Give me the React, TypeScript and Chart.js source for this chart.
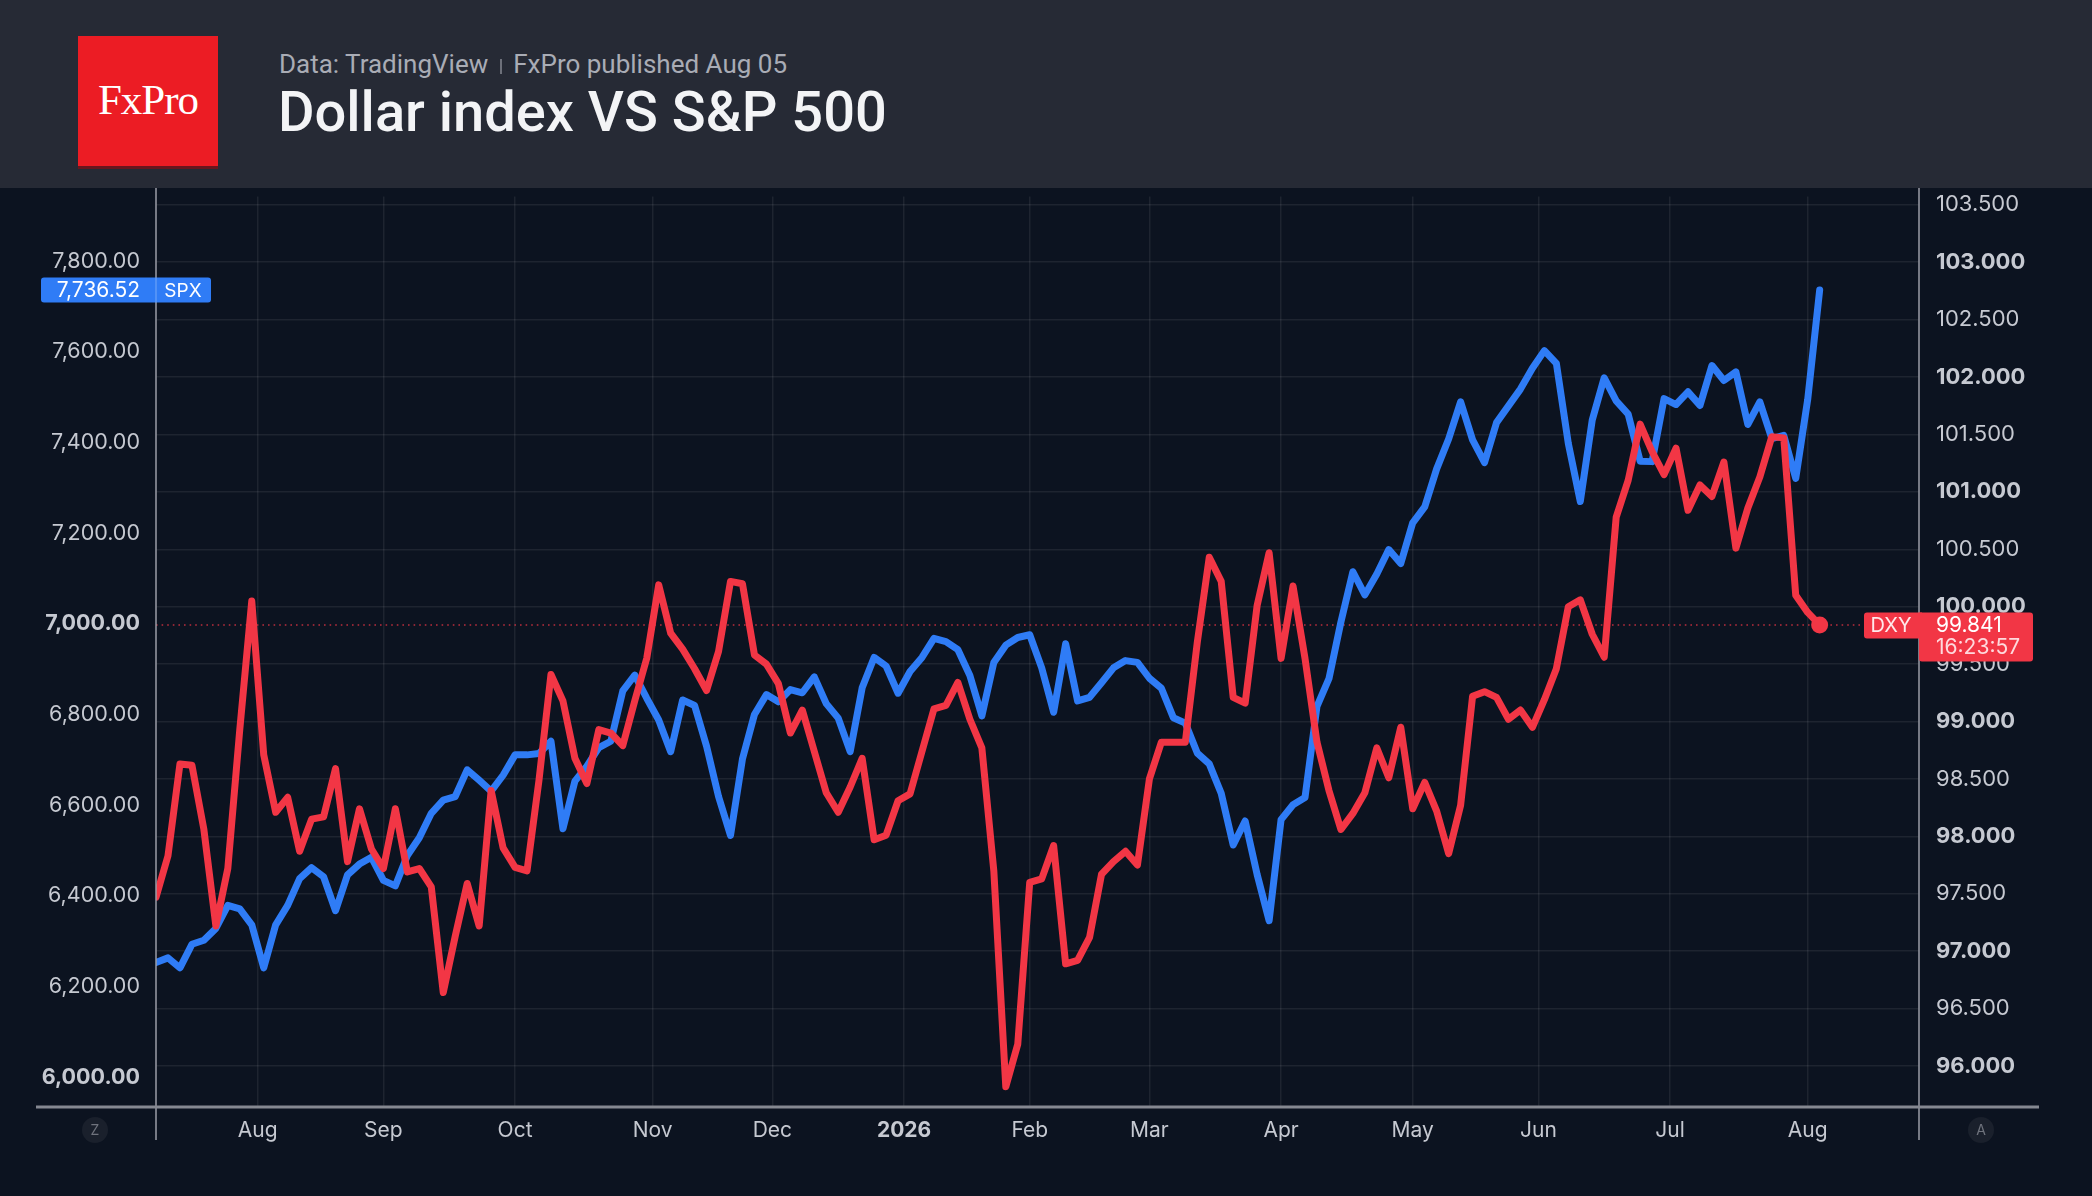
import React, { useEffect, useRef } from "react";
import { Chart, registerables } from "chart.js";

Chart.register(...registerables);

// ---- data (daily bars, one value every 2 bars) ----
const barStep = 2;
const monthTickIndex = [17, 38, 60, 83, 103, 125, 146, 166, 188, 210, 231, 253, 276];
const monthTickLabels = ["Aug", "Sep", "Oct", "Nov", "Dec", "2026", "Feb", "Mar", "Apr", "May", "Jun", "Jul", "Aug"];

const spxValues = [
  6253, 6263, 6241, 6293, 6302, 6328, 6379, 6371, 6336, 6241,
  6336, 6379, 6438, 6462, 6442, 6367, 6446, 6470, 6485, 6434,
  6422, 6489, 6528, 6582, 6611, 6619, 6678, 6655, 6631, 6666,
  6711, 6711, 6714, 6741, 6548, 6653, 6686, 6727, 6741, 6852,
  6887, 6836, 6788, 6718, 6832, 6820, 6730, 6619, 6533, 6702,
  6800, 6844, 6828, 6855, 6848, 6883, 6824, 6792, 6718, 6859,
  6926, 6907, 6847, 6895, 6926, 6968, 6961, 6943, 6886, 6797,
  6915, 6953, 6970, 6976, 6903, 6805, 6956, 6830, 6838, 6870,
  6903, 6919, 6915, 6880, 6858, 6793, 6781, 6715, 6691, 6626,
  6512, 6565, 6447, 6345, 6568, 6601, 6617, 6818, 6879, 7004,
  7115, 7064, 7110, 7164, 7133, 7223, 7258, 7342, 7408, 7490,
  7406, 7356, 7444, 7481, 7518, 7564, 7603, 7575, 7398, 7270,
  7450, 7543, 7492, 7463, 7359, 7358, 7497, 7484, 7512, 7482,
  7570, 7537, 7556, 7440, 7490, 7409, 7416, 7321, 7495, 7736.52,
];

const dxyValues = [
  97.47, 97.83, 98.63, 98.62, 98.06, 97.22, 97.72, 98.93, 100.05, 98.71,
  98.21, 98.34, 97.87, 98.15, 98.17, 98.59, 97.78, 98.24, 97.89, 97.72,
  98.24, 97.69, 97.72, 97.56, 96.64, 97.13, 97.59, 97.22, 98.4, 97.9,
  97.73, 97.7, 98.49, 99.41, 99.18, 98.68, 98.46, 98.93, 98.9, 98.79,
  99.18, 99.55, 100.19, 99.77, 99.63, 99.46, 99.27, 99.61, 100.22, 100.2,
  99.58, 99.5, 99.33, 98.9, 99.1, 98.74, 98.38, 98.21, 98.43, 98.68,
  97.97, 98.01, 98.31, 98.37, 98.74, 99.11, 99.14, 99.34, 99.02, 98.77,
  97.7, 95.82, 96.19, 97.6, 97.63, 97.92, 96.89, 96.92, 97.12, 97.67,
  97.78, 97.87, 97.75, 98.5, 98.82, 98.82, 98.82, 99.69, 100.43, 100.22,
  99.21, 99.16, 100.01, 100.47, 99.55, 100.18, 99.55, 98.82, 98.4, 98.06,
  98.2, 98.38, 98.77, 98.51, 98.95, 98.24, 98.47, 98.22, 97.85, 98.27,
  99.22, 99.26, 99.21, 99.02, 99.1, 98.95, 99.19, 99.46, 100.0, 100.06,
  99.76, 99.56, 100.78, 101.1, 101.59, 101.35, 101.15, 101.38, 100.84, 101.06,
  100.96, 101.26, 100.51, 100.86, 101.13, 101.48, 101.47, 100.1, 99.95, 99.841,
];

const spxTicks = [6000, 6200, 6400, 6600, 6800, 7000, 7200, 7400, 7600, 7800];
const spxBold = [6000, 7000];
const dxyTicks = [96, 96.5, 97, 97.5, 98, 98.5, 99, 99.5, 100, 100.5, 101, 101.5, 102, 102.5, 103, 103.5];
const spxLast = 7736.52;
const dxyLast = 99.841;
const dxyTime = "16:23:57";

// ---- styles ----
const W = 2092;
const H = 1196;
const HEADER_H = 188;
const CANVAS_H = H - HEADER_H;
const BG = "#0c1320";
const GRID = "rgba(255,255,255,0.075)";
const TEXT = "#c6c9d1";
const BLUE = "#2f7cf6";
const RED = "#f23645";
const FONT = "Inter, 'Noto Sans', sans-serif";

const noPad = (s: any) => {
  s.paddingTop = 0;
  s.paddingBottom = 0;
  s.paddingLeft = 0;
  s.paddingRight = 0;
};

export default function App() {
  const ref = useRef<HTMLCanvasElement | null>(null);

  useEffect(() => {
    document.body.style.margin = "0";
    document.body.style.background = BG;
    const canvas = ref.current;
    if (!canvas) return;

    const overlay = {
      id: "overlay",
      beforeDatasetsDraw(chart: any) {
        const { ctx, chartArea, scales } = chart;
        const y = scales.yR.getPixelForValue(dxyLast);
        ctx.save();
        ctx.strokeStyle = "rgba(242,54,69,0.75)";
        ctx.lineWidth = 1.6;
        ctx.setLineDash([1.6, 4]);
        ctx.beginPath();
        ctx.moveTo(chartArea.left, y);
        ctx.lineTo(chartArea.right - 55, y);
        ctx.stroke();
        ctx.restore();
      },
      afterDraw(chart: any) {
        const { ctx, chartArea, scales } = chart;
        const L = chartArea.left;
        const R = chartArea.right;
        const B = chartArea.bottom;
        ctx.save();
        // axis lines
        ctx.strokeStyle = "#9a9da6";
        ctx.lineWidth = 1.5;
        ctx.beginPath();
        ctx.moveTo(L, 0);
        ctx.lineTo(L, B + 34);
        ctx.moveTo(R, 0);
        ctx.lineTo(R, B + 34);
        ctx.stroke();
        ctx.strokeStyle = "#858891";
        ctx.lineWidth = 3;
        ctx.beginPath();
        ctx.moveTo(36, B + 1);
        ctx.lineTo(2039, B + 1);
        ctx.stroke();

        // SPX tag
        const ys = scales.yL.getPixelForValue(spxLast);
        ctx.fillStyle = BLUE;
        ctx.beginPath();
        (ctx as any).roundRect(41, ys - 12.5, 170, 25, 3);
        ctx.fill();
        ctx.strokeStyle = "rgba(255,255,255,0.35)";
        ctx.lineWidth = 1;
        ctx.beginPath();
        ctx.moveTo(L, ys - 12.5);
        ctx.lineTo(L, ys + 12.5);
        ctx.stroke();
        ctx.fillStyle = "#ffffff";
        ctx.textBaseline = "middle";
        ctx.textAlign = "right";
        ctx.font = `21px ${FONT}`;
        ctx.fillText(spxLast.toLocaleString("en-US", { minimumFractionDigits: 2, maximumFractionDigits: 2 }), 140, ys + 1);
        ctx.textAlign = "center";
        ctx.font = `19px ${FONT}`;
        ctx.fillText("SPX", 183, ys + 1);

        // DXY tag
        const yd = scales.yR.getPixelForValue(dxyLast);
        ctx.fillStyle = RED;
        ctx.beginPath();
        (ctx as any).roundRect(R - 55, yd - 12.5, 58, 26, [3, 0, 0, 3]);
        ctx.fill();
        ctx.beginPath();
        (ctx as any).roundRect(R, yd - 12.5, 114, 49, [0, 3, 3, 3]);
        ctx.fill();
        ctx.fillStyle = "#ffe9eb";
        ctx.font = `20px ${FONT}`;
        ctx.textAlign = "center";
        ctx.fillText("DXY", R - 28, yd + 1);
        ctx.textAlign = "left";
        ctx.font = `21px ${FONT}`;
        ctx.fillStyle = "#ffffff";
        ctx.fillText(dxyLast.toFixed(3), R + 17, yd + 1);
        ctx.fillStyle = "rgba(255,235,237,0.9)";
        ctx.fillText(dxyTime, R + 17, yd + 23);

        // Z / A buttons
        const by = B + 24;
        [
          [95, "Z"],
          [1981, "A"],
        ].forEach(([x, t]) => {
          ctx.fillStyle = "#1a202c";
          ctx.beginPath();
          ctx.arc(x as number, by, 13, 0, Math.PI * 2);
          ctx.fill();
          ctx.fillStyle = "#6f737d";
          ctx.font = `14px ${FONT}`;
          ctx.textAlign = "center";
          ctx.fillText(t as string, x as number, by + 1);
        });
        ctx.restore();
      },
    };

    const lastIdx = dxyValues.length - 1;
    const chart = new Chart(canvas, {
      type: "line",
      data: {
        datasets: [
          {
            label: "DXY",
            data: dxyValues.map((v, k) => ({ x: k * barStep, y: v })),
            yAxisID: "yR",
            borderColor: RED,
            backgroundColor: RED,
            borderWidth: 7,
            borderJoinStyle: "round",
            borderCapStyle: "round",
            tension: 0,
            pointRadius: (c: any) => (c.dataIndex === lastIdx ? 8.5 : 0),
            pointBackgroundColor: RED,
            pointBorderWidth: 0,
          },
          {
            label: "SPX",
            data: spxValues.map((v, k) => ({ x: k * barStep, y: v })),
            yAxisID: "yL",
            borderColor: BLUE,
            backgroundColor: BLUE,
            borderWidth: 7,
            borderJoinStyle: "round",
            borderCapStyle: "round",
            tension: 0,
            pointRadius: 0,
          },
        ],
      },
      options: {
        animation: false,
        responsive: false,
        devicePixelRatio: 1,
        events: [],
        layout: { padding: { top: 0, left: 0, right: 0, bottom: 0 } },
        plugins: { legend: { display: false }, tooltip: { enabled: false } },
        scales: {
          x: {
            type: "linear",
            min: 0,
            max: 294.6,
            afterBuildTicks: (s: any) => {
              s.ticks = monthTickIndex.map((v) => ({ value: v }));
            },
            afterFit: (s: any) => {
              s.height = 90;
              noPad(s);
            },
            ticks: {
              autoSkip: false,
              maxRotation: 0,
              padding: 12,
              color: TEXT,
              callback: (v: any) => monthTickLabels[monthTickIndex.indexOf(Number(v))],
              font: (c: any) => ({
                family: FONT,
                size: 21,
                weight: c.tick && monthTickLabels[monthTickIndex.indexOf(c.tick.value)] === "2026" ? "bold" : "normal",
              }),
            },
            grid: { color: GRID, drawTicks: false, lineWidth: 1.5 },
            border: { display: false },
          },
          yL: {
            type: "linear",
            position: "left",
            min: 5936.2,
            max: 7943,
            afterBuildTicks: (s: any) => {
              s.ticks = spxTicks.map((v) => ({ value: v }));
            },
            afterFit: (s: any) => {
              s.width = 156;
              noPad(s);
            },
            ticks: {
              padding: 8,
              color: TEXT,
              callback: (v: any) =>
                Number(v).toLocaleString("en-US", { minimumFractionDigits: 2, maximumFractionDigits: 2 }),
              font: (c: any) => ({
                family: FONT,
                size: 21.5,
                weight: c.tick && spxBold.includes(c.tick.value) ? "bold" : "normal",
              }),
            },
            grid: { display: false },
            border: { display: false },
          },
          yR: {
            type: "linear",
            position: "right",
            min: 95.652,
            max: 103.572,
            afterBuildTicks: (s: any) => {
              s.ticks = dxyTicks.map((v) => ({ value: v }));
            },
            afterFit: (s: any) => {
              s.width = 173;
              noPad(s);
            },
            ticks: {
              padding: 17,
              color: TEXT,
              callback: (v: any) => Number(v).toFixed(3),
              font: (c: any) => ({
                family: FONT,
                size: 22,
                weight: c.tick && Number.isInteger(c.tick.value) ? "bold" : "normal",
              }),
            },
            grid: { color: GRID, drawTicks: false, lineWidth: 1.5 },
            border: { display: false },
          },
        },
      },
      plugins: [overlay],
    } as any);

    return () => chart.destroy();
  }, []);

  return (
    <div style={{ position: "fixed", left: 0, top: 0, width: W, height: H, background: BG, overflow: "hidden" }}>
      <div style={{ position: "absolute", left: 0, top: 0, width: W, height: HEADER_H, background: "#262a35" }}>
        <div
          style={{
            position: "absolute",
            left: 78,
            top: 36,
            width: 140,
            height: 130,
            background: "#ec1c24",
            boxShadow: "0 3px 0 rgba(150,10,15,0.6)",
            display: "flex",
            alignItems: "center",
            justifyContent: "center",
            color: "#ffffff",
            fontFamily: "'Liberation Serif', 'DejaVu Serif', serif",
            fontSize: 43,
            lineHeight: "43px",
            letterSpacing: -1,
            paddingBottom: 4,
            boxSizing: "border-box",
          }}
        >
          FxPro
        </div>
        <div
          style={{
            position: "absolute",
            left: 279,
            top: 51,
            fontFamily: "Roboto, 'Noto Sans', sans-serif",
            fontSize: 26,
            lineHeight: "26px",
            color: "#a9acb5",
            whiteSpace: "nowrap",
          }}
        >
          Data: TradingView
          <span
            style={{
              display: "inline-block",
              width: 2,
              height: 15,
              background: "#6d707a",
              margin: "0 11px 0 12px",
              verticalAlign: "-1px",
            }}
          />
          FxPro published Aug 05
        </div>
        <div
          style={{
            position: "absolute",
            left: 278,
            top: 84,
            fontFamily: "Roboto, 'Noto Sans', sans-serif",
            fontSize: 56,
            lineHeight: "56px",
            fontWeight: 500,
            color: "#f3f4f6",
            whiteSpace: "nowrap",
          }}
        >
          Dollar index VS S&amp;P 500
        </div>
      </div>
      <canvas
        ref={ref}
        width={W}
        height={CANVAS_H}
        style={{ position: "absolute", left: 0, top: HEADER_H, width: W, height: CANVAS_H, display: "block" }}
      />
    </div>
  );
}
